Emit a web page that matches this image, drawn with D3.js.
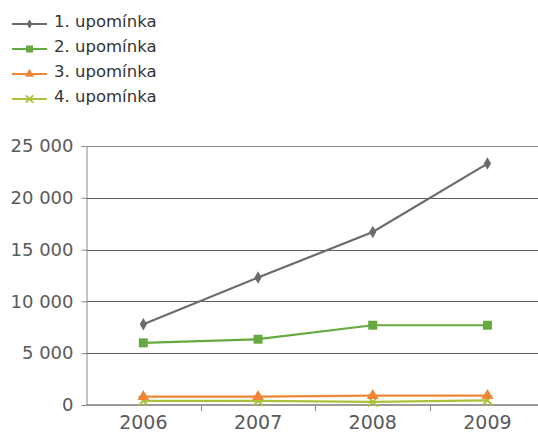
<!DOCTYPE html>
<html>
<head>
<meta charset="utf-8">
<script src="https://cdn.jsdelivr.net/npm/d3@7"></script>
<style>
  body { margin: 0; background: #fff; }
  svg { display: block; font-family: "DejaVu Sans", sans-serif; }
</style>
</head>
<body>
<svg id="chart" width="538" height="434"></svg>
<script>
// data
var years = ["2006", "2007", "2008", "2009"];
var seriesNames = ["1. upomínka", "2. upomínka", "3. upomínka", "4. upomínka"];
var upominka1 = [7800, 12300, 16700, 23300];
var upominka2 = [6000, 6350, 7700, 7700];
var upominka3 = [800, 800, 900, 900];
var upominka4 = [400, 400, 300, 450];
var yTicks = [0, 5000, 10000, 15000, 20000, 25000];

var colors = ["#6b6b6e", "#64aa40", "#ef8636", "#a9c33a"];
var symbols = [d3.symbolDiamond, d3.symbolSquare, d3.symbolTriangle, d3.symbolX];
var symSize = [45, 81, 60, 60];

var series = [upominka1, upominka2, upominka3, upominka4].map(function(v, i) {
  return { name: seriesNames[i], values: v };
});

var svg = d3.select("#chart");
var plotLeft = 86, plotBottom = 405, plotTop = 146;

var x = d3.scaleBand().domain(years).range([plotLeft, plotLeft + 4 * 114.7]).padding(0);
var y = d3.scaleLinear().domain([0, 25000]).range([plotBottom, plotTop]);

// horizontal gridlines
svg.append("g")
  .selectAll("line")
  .data(yTicks.slice(1))
  .enter().append("line")
  .attr("x1", plotLeft).attr("x2", 538)
  .attr("y1", function(d) { return Math.round(y(d)) + 0.5; })
  .attr("y2", function(d) { return Math.round(y(d)) + 0.5; })
  .attr("stroke", function(d) { return d == 25000 ? "#8c8c8c" : "#5e5e5e"; })
  .attr("stroke-width", 1);

// y axis
var yAxis = d3.axisLeft(y).tickValues(yTicks).tickSize(5).tickPadding(8)
  .tickFormat(function(d) { return d3.format(",")(d).replace(/,/g, " "); });
var gy = svg.append("g").attr("transform", "translate(" + (plotLeft + 0.5) + ",0)").call(yAxis);
gy.select(".domain").attr("stroke", "#8a8a8a");
gy.selectAll(".tick line").attr("stroke", "#8a8a8a");
gy.selectAll(".tick text").attr("fill", "#5a5a5a").attr("font-size", 18)
  .attr("font-family", "DejaVu Sans");

// x axis
var xAxis = d3.axisBottom(x).tickSize(0).tickPadding(11);
var gx = svg.append("g").attr("transform", "translate(0," + plotBottom + ")").call(xAxis);
gx.select(".domain").remove();
gx.append("line").attr("x1", plotLeft).attr("x2", 538).attr("y1", 0).attr("y2", 0)
  .attr("stroke", "#9a9a9a").attr("stroke-width", 2);
gx.selectAll(".tickmark")
  .data(years.slice(1))
  .enter().append("line")
  .attr("class", "tickmark")
  .attr("x1", function(d) { return Math.round(x(d)) + 0.5; })
  .attr("x2", function(d) { return Math.round(x(d)) + 0.5; })
  .attr("y1", 0).attr("y2", 6)
  .attr("stroke", "#8a8a8a");
gx.selectAll(".tick text").attr("fill", "#5a5a5a").attr("font-size", 19)
  .attr("font-family", "DejaVu Sans");

// lines and markers
var cx = function(i) { return x(years[i]) + x.bandwidth() / 2; };
var line = d3.line()
  .x(function(d, i) { return cx(i); })
  .y(function(d) { return y(d); });

series.slice().reverse().forEach(function(s) {
  var i = seriesNames.indexOf(s.name);
  var g = svg.append("g");
  g.append("path").datum(s.values)
    .attr("d", line)
    .attr("fill", "none")
    .attr("stroke", colors[i])
    .attr("stroke-width", 2.2);
  g.selectAll("path.mark")
    .data(s.values)
    .enter().append("path")
    .attr("class", "mark")
    .attr("d", d3.symbol().type(symbols[i]).size(symSize[i]))
    .attr("transform", function(d, j) { return "translate(" + cx(j) + "," + y(d) + ")"; })
    .attr("fill", colors[i])
    .attr("stroke", i == 3 ? colors[i] : "none")
    .attr("stroke-width", 2);
});

// legend
var leg = svg.append("g").selectAll("g")
  .data(series)
  .enter().append("g")
  .attr("transform", function(d, i) { return "translate(0," + (24 + i * 25) + ")"; });
leg.append("line")
  .attr("x1", 12).attr("x2", 47).attr("y1", 0).attr("y2", 0)
  .attr("stroke", function(d, i) { return colors[i]; })
  .attr("stroke-width", 2.2);
leg.append("path")
  .attr("d", function(d, i) { return d3.symbol().type(symbols[i]).size(symSize[i] * 0.6)(); })
  .attr("transform", "translate(29.5,0)")
  .attr("fill", function(d, i) { return colors[i]; })
  .attr("stroke", function(d, i) { return i == 3 ? colors[i] : "none"; })
  .attr("stroke-width", 1.8);
leg.append("text")
  .attr("x", 54).attr("y", 3)
  .attr("font-size", 16.5)
  .attr("fill", "#333")
  .text(function(d) { return d.name; });
</script>
</body>
</html>
